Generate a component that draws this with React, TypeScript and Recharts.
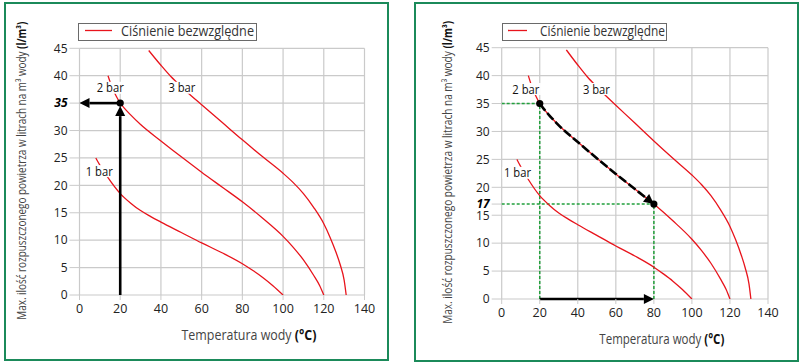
import React from "react";
import {
  LineChart, Line, XAxis, YAxis, CartesianGrid, ReferenceLine, ReferenceDot, Legend,
} from "recharts";

type Pt = { x: number; y: number };

const xTicks = [0, 20, 40, 60, 80, 100, 120, 140];
const yTicks = [0, 5, 10, 15, 20, 25, 30, 35, 40, 45];

// max dissolved air (l/m3) vs water temperature
const bar1: Pt[] = [
  { x: 8, y: 25 }, { x: 10, y: 23.7 }, { x: 14, y: 21.4 }, { x: 20, y: 18.5 },
  { x: 25, y: 16.8 }, { x: 30, y: 15.4 }, { x: 35, y: 14.3 }, { x: 40, y: 13.3 },
  { x: 50, y: 11.4 }, { x: 60, y: 9.5 }, { x: 70, y: 7.7 }, { x: 80, y: 5.7 },
  { x: 85, y: 4.5 }, { x: 90, y: 3.2 }, { x: 95, y: 1.7 }, { x: 100, y: 0 },
];
const bar2: Pt[] = [
  { x: 14, y: 40 }, { x: 16, y: 37.9 }, { x: 18, y: 36.3 }, { x: 20, y: 35 },
  { x: 22, y: 34.1 }, { x: 25, y: 32.9 }, { x: 30, y: 31.1 }, { x: 40, y: 28.1 },
  { x: 50, y: 25.2 }, { x: 60, y: 22.4 }, { x: 70, y: 19.7 }, { x: 80, y: 17 },
  { x: 90, y: 14.0 }, { x: 100, y: 10.7 }, { x: 105, y: 8.7 }, { x: 110, y: 6.4 },
  { x: 115, y: 3.6 }, { x: 118, y: 1.7 }, { x: 120, y: 0 },
];
const bar3: Pt[] = [
  { x: 34, y: 44.6 }, { x: 40, y: 41.9 }, { x: 45, y: 39.8 }, { x: 50, y: 38.0 },
  { x: 55, y: 36.3 }, { x: 60, y: 34.7 }, { x: 70, y: 31.5 }, { x: 80, y: 28.3 },
  { x: 90, y: 25.2 }, { x: 100, y: 22.2 }, { x: 105, y: 20.5 }, { x: 110, y: 18.5 },
  { x: 115, y: 16.0 }, { x: 120, y: 13.0 }, { x: 123, y: 10.6 }, { x: 126, y: 7.8 },
  { x: 128, y: 5.6 }, { x: 130, y: 2.7 }, { x: 131, y: 0 },
];

// worked example: 20 °C at 2 bar -> 35 l/m3, heated to 80 °C -> 17 l/m3
const startPt: Pt = { x: 20, y: 35 };
const endPt: Pt = { x: 80, y: 17 };
const heatedPath = bar2.filter((p) => p.x >= startPt.x && p.x <= endPt.x);

const FONT = "'Open Sans', 'Noto Sans', sans-serif";
const RED = "#e8141c";
const GRID = "#cacaca";
const GREEN = "#22a03c";
const FRAME = "#1b8a5a";

const arrow = (gap = 0) => (p: any) => {
  const { x1, y1, x2, y2 } = p;
  const d = Math.hypot(x2 - x1, y2 - y1) || 1;
  const ux = (x2 - x1) / d, uy = (y2 - y1) / d;
  const tx = x2 - ux * gap, ty = y2 - uy * gap;
  const bx = tx - ux * 10, by = ty - uy * 10;
  const px = -uy * 5, py = ux * 5;
  return (
    <g>
      <line x1={x1} y1={y1} x2={bx} y2={by} stroke="#000" strokeWidth={2.6} />
      <polygon points={`${tx},${ty} ${bx + px},${by + py} ${bx - px},${by - py}`} fill="#000" />
    </g>
  );
};

const tag = (text: string) => (p: any) => (
  <g>
    <rect x={p.cx - 15} y={p.cy - 6} width={30} height={12} fill="#fff" />
    <text x={p.cx} y={p.cy} dy="0.36em" textAnchor="middle" fontSize={12.5} fill="#111"
      fontFamily={FONT} textLength={27} lengthAdjust="spacingAndGlyphs">{text}</text>
  </g>
);

const dot = (p: any) => <circle cx={p.cx} cy={p.cy} r={3.6} fill="#000" />;

const makeYTick = (hi: number) => (p: any) => {
  const bold = p.payload.value === hi;
  return (
    <text x={p.x} y={p.y} dy="0.36em" textAnchor="end" fontSize={12} fontFamily={FONT}
      fill={bold ? "#000" : "#222"} fontWeight={bold ? 700 : 400} fontStyle={bold ? "italic" : "normal"}>
      {p.payload.value}
    </text>
  );
};

const XTick = (p: any) => (
  <text x={p.x} y={p.y} dy="0.71em" textAnchor="middle" fontSize={12.5} fontFamily={FONT} fill="#222">
    {p.payload.value}
  </text>
);

type PanelCfg = {
  id: "a" | "b";
  left: number;
  margin: { top: number; right: number; bottom: number; left: number };
  yWidth: number;
  ticks: number[];
  hi: number;
  yLabelX: number;
  yLabelLen: number;
  xLabelLen: number;
  legend: { left: number; width: number; line: [number, number]; textX: number; textLen: number };
  tags: { text: string; x: number; y: number }[];
};

const panels: PanelCfg[] = [
  {
    id: "a", left: 0,
    margin: { top: 48.3, right: 35.5, bottom: 39, left: 0 },
    yWidth: 79.5, ticks: yTicks, hi: 35, yLabelX: 22, yLabelLen: 298, xLabelLen: 135,
    legend: { left: 78, width: 179, line: [7, 34], textX: 43, textLen: 133 },
    tags: [{ text: "1 bar", x: 9.7, y: 22.6 }, { text: "2 bar", x: 15.1, y: 37.8 }, { text: "3 bar", x: 50.3, y: 37.8 }],
  },
  {
    id: "b", left: 400,
    margin: { top: 47.7, right: 32, bottom: 35, left: 0 },
    yWidth: 101.7, ticks: [...yTicks, 17].sort((a, b) => a - b), hi: 17, yLabelX: 48, yLabelLen: 303, xLabelLen: 125,
    legend: { left: 102, width: 165, line: [6, 25], textX: 38, textLen: 125 },
    tags: [{ text: "1 bar", x: 8.3, y: 22.6 }, { text: "2 bar", x: 12.7, y: 37.6 }, { text: "3 bar", x: 49.8, y: 37.6 }],
  },
];

const Panel = ({ cfg }: { cfg: PanelCfg }) => {
  const lg = cfg.legend;
  return (
    <div style={{ position: "absolute", left: cfg.left, top: 0 }}>
      <LineChart width={400} height={364} margin={cfg.margin}>
        <CartesianGrid stroke={GRID} strokeWidth={1.2} horizontalValues={yTicks} verticalValues={xTicks} />
        <XAxis type="number" dataKey="x" domain={[0, 140]} ticks={xTicks} interval={0}
          allowDataOverflow height={30} tickSize={5} tickMargin={4}
          axisLine={false} tickLine={{ stroke: GRID }} tick={XTick}
          label={(p: any) => {
            const vb = p.viewBox || {};
            return (
              <text x={vb.x + vb.width / 2 + 27} y={vb.y + 45} textAnchor="middle" fontSize={14}
                fontFamily={FONT} fill="#444" textLength={cfg.xLabelLen} lengthAdjust="spacingAndGlyphs">
                Temperatura wody <tspan fontWeight={700} fill="#111">(°C)</tspan>
              </text>
            );
          }}
        />
        <YAxis type="number" domain={[0, 45]} ticks={cfg.ticks} interval={0} width={cfg.yWidth}
          allowDataOverflow tickSize={10} tickMargin={2}
          axisLine={false} tickLine={{ stroke: GRID }} tick={makeYTick(cfg.hi)}
          label={(p: any) => {
            const vb = p.viewBox || {};
            const cx = vb.x + cfg.yLabelX;
            const cy = vb.y + vb.height / 2 - 1;
            return (
              <text x={cx} y={cy} dy="0.36em" transform={`rotate(-90, ${cx}, ${cy})`} textAnchor="middle"
                fontSize={12} fontFamily={FONT} fill="#444" textLength={cfg.yLabelLen}
                lengthAdjust="spacingAndGlyphs">
                Max. ilość rozpuszczonego powietrza w litrach na m³ wody <tspan fontWeight={700} fill="#111">(l/m³)</tspan>
              </text>
            );
          }}
        />
        <Legend verticalAlign="middle" align="center" layout="horizontal"
          wrapperStyle={{ top: 23, left: lg.left, width: lg.width, height: 18 }}
          content={() => (
            <svg width={lg.width} height={18} style={{ display: "block", overflow: "visible" }}>
              <rect x={0.5} y={0.5} width={lg.width - 1} height={17} fill="#fff" stroke="#6a6a6a" />
              <line x1={lg.line[0]} x2={lg.line[1]} y1={7.5} y2={7.5} stroke={RED} strokeWidth={1.3} />
              <text x={lg.textX} y={13} fontSize={14} fontFamily={FONT} fill="#333"
                textLength={lg.textLen} lengthAdjust="spacingAndGlyphs">Ciśnienie bezwzględne</text>
            </svg>
          )}
        />

        {cfg.id === "b" && [
          <ReferenceLine key="g1" segment={[{ x: 0, y: startPt.y }, startPt]} stroke={GREEN} strokeWidth={1.5} strokeDasharray="3 2" />,
          <ReferenceLine key="g2" segment={[{ x: startPt.x, y: 0 }, startPt]} stroke={GREEN} strokeWidth={1.5} strokeDasharray="3 2" />,
          <ReferenceLine key="g3" segment={[{ x: 0, y: endPt.y }, endPt]} stroke={GREEN} strokeWidth={1.5} strokeDasharray="3 2" />,
          <ReferenceLine key="g4" segment={[{ x: endPt.x, y: 0 }, endPt]} stroke={GREEN} strokeWidth={1.5} strokeDasharray="3 2" />,
        ]}

        <Line data={bar1} dataKey="y" type="monotone" stroke={RED} strokeWidth={1.3} dot={false} activeDot={false} isAnimationActive={false} />
        <Line data={bar2} dataKey="y" type="monotone" stroke={RED} strokeWidth={1.3} dot={false} activeDot={false} isAnimationActive={false} />
        <Line data={bar3} dataKey="y" type="monotone" stroke={RED} strokeWidth={1.3} dot={false} activeDot={false} isAnimationActive={false} />

        {cfg.id === "a" && [
          <ReferenceLine key="a1" segment={[{ x: startPt.x, y: 0 }, startPt]} shape={arrow(3)} />,
          <ReferenceLine key="a2" segment={[startPt, { x: 0, y: startPt.y }]} shape={arrow(0)} />,
        ]}
        {cfg.id === "b" && (
          <Line data={heatedPath} dataKey="y" type="monotone" stroke="#000" strokeWidth={2.6}
            strokeDasharray="9 3" markerEnd="url(#headB)" dot={false} activeDot={false} isAnimationActive={false} />
        )}
        {cfg.id === "b" && (
          <ReferenceLine segment={[{ x: startPt.x, y: 0 }, { x: endPt.x, y: 0 }]} shape={arrow(0)} />
        )}

        <ReferenceDot x={startPt.x} y={startPt.y} shape={dot} />
        {cfg.id === "b" && <ReferenceDot x={endPt.x} y={endPt.y} shape={dot} />}

        {cfg.tags.map((t) => (
          <ReferenceDot key={t.text} x={t.x} y={t.y} shape={tag(t.text)} />
        ))}
      </LineChart>
    </div>
  );
};

export default function App() {
  return (
    <div style={{ position: "absolute", left: 0, top: 0, width: 800, height: 364, background: "#fff", fontFamily: FONT }}>
      <svg width={0} height={0} style={{ position: "absolute" }}>
        <defs>
          <marker id="headB" viewBox="0 0 10 10" refX={10} refY={5} markerWidth={11} markerHeight={10}
            markerUnits="userSpaceOnUse" orient="auto">
            <path d="M0,0 L10,5 L0,10 z" fill="#000" />
          </marker>
        </defs>
      </svg>
      <div style={{ position: "absolute", left: 4, top: 2, width: 385, height: 359, border: `2px solid ${FRAME}`, boxSizing: "border-box" }} />
      <div style={{ position: "absolute", left: 414, top: 2, width: 385, height: 360, border: `2px solid ${FRAME}`, boxSizing: "border-box" }} />
      {panels.map((p) => <Panel key={p.id} cfg={p} />)}
    </div>
  );
}
